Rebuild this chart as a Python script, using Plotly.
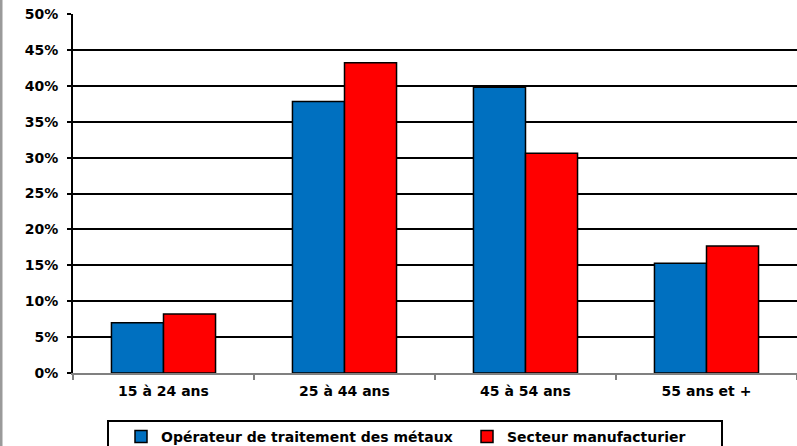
import plotly.graph_objects as go

categories = ["15 à 24 ans", "25 à 44 ans", "45 à 54 ans", "55 ans et +"]
operateur = [0.070, 0.378, 0.398, 0.153]
secteur = [0.082, 0.432, 0.306, 0.177]
series_names = ["Opérateur de traitement des métaux", "Secteur manufacturier"]
y_ticks = [0, 0.05, 0.10, 0.15, 0.20, 0.25, 0.30, 0.35, 0.40, 0.45, 0.50]

W, H = 797, 446
L, R, T, B = 73, 0, 14, 73
PW, PH = W - L - R, H - T - B


def xp(px):
    return (px - L) / PW


def yp(py):
    return (H - B - py) / PH


FONT = dict(family="DejaVu Sans", size=14, color="black", weight="bold")

fig = go.Figure()
fig.add_trace(go.Bar(x=categories, y=operateur, name=series_names[0],
                     marker=dict(color="#0070C0", line=dict(color="black", width=1.5))))
fig.add_trace(go.Bar(x=categories, y=secteur, name=series_names[1],
                     marker=dict(color="#FF0000", line=dict(color="black", width=1.5))))

fig.update_layout(
    width=W, height=H,
    margin=dict(l=L, r=R, t=T, b=B, autoexpand=False),
    paper_bgcolor="white", plot_bgcolor="white",
    barmode="group", bargap=0.425, bargroupgap=0,
    font=FONT,
    showlegend=True,
    legend=dict(orientation="h", x=xp(121), xanchor="left", y=yp(421), yanchor="top",
                font=FONT, borderwidth=0, bgcolor="rgba(0,0,0,0)",
                entrywidth=301, traceorder="normal"),
    xaxis=dict(showline=True, linecolor="#808080", linewidth=2,
               ticks="outside", tickson="boundaries", ticklen=5, tickcolor="#808080", tickwidth=2,
               showgrid=False, tickfont=FONT, ticklabelstandoff=4),
    yaxis=dict(range=[0, 0.5], tickvals=y_ticks, tickformat=".0%",
               showline=True, linecolor="black", linewidth=2,
               ticks="outside", ticklen=4, tickcolor="black", tickwidth=2,
               showgrid=True, gridcolor="black", gridwidth=1.5, zeroline=False,
               tickfont=FONT, ticklabelstandoff=6),
    shapes=[
        dict(type="rect", xref="paper", yref="paper", x0=xp(0), x1=xp(2.5), y0=yp(H + 5), y1=yp(-5),
             fillcolor="#9a9a9a", line=dict(width=0), layer="above"),
        dict(type="rect", xref="paper", yref="paper", x0=xp(108), x1=xp(722), y0=yp(470), y1=yp(421),
             fillcolor="rgba(0,0,0,0)", line=dict(color="black", width=2), layer="above"),
    ],
)

fig.write_html("out.html", config={"displayModeBar": False},
               post_script="document.body.style.margin='0px';document.body.style.overflow='hidden';")
